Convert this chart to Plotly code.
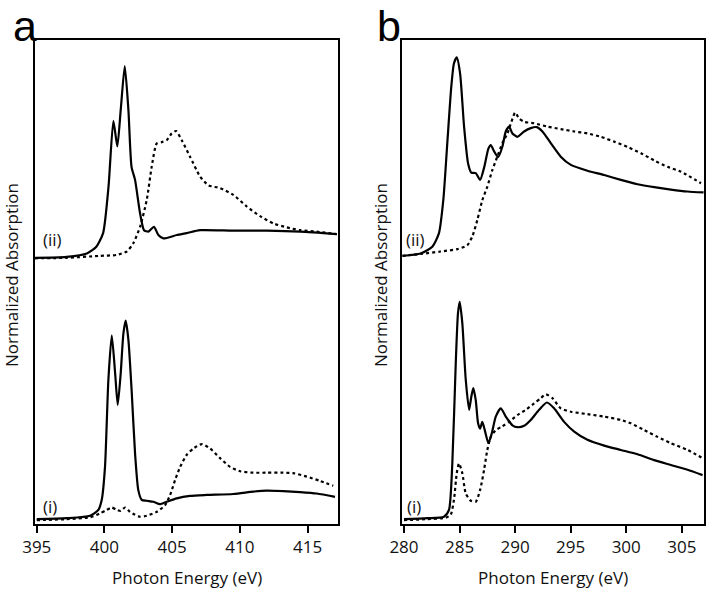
import plotly.graph_objects as go

# ---------------- Panel a: N K-edge ----------------
a_ii_solid_x = [394.87, 397.2, 398.7, 399.4, 399.9, 400.3, 400.66, 400.95, 401.2, 401.5, 401.77, 402.0, 402.26,
                402.63, 402.92, 403.24, 403.66, 403.98, 404.35, 405.34, 406.08, 407.06, 409.5, 412.0, 414.45, 417.16]
a_ii_solid_y = [55.0, 55.2, 55.9, 57.3, 60.1, 69.7, 83.3, 78.0, 85.5, 94.6, 85.5, 73.8, 71.1,
                64.2, 60.7, 60.4, 61.4, 59.7, 59.0, 59.7, 60.1, 60.7, 60.6, 60.6, 60.4, 59.9]

a_ii_dot_x = [394.87, 397.2, 399.67, 400.9, 401.65, 402.13, 402.63, 403.12, 403.49, 403.86, 404.23, 404.6, 404.97,
              405.29, 405.71, 406.32, 407.06, 407.67, 408.54, 409.52, 410.51, 411.5, 412.48, 413.46, 414.45, 415.68, 417.16]
a_ii_dot_y = [54.9, 55.0, 55.4, 55.6, 56.3, 58.0, 61.4, 66.9, 73.8, 78.6, 78.9, 79.3, 80.7,
              81.2, 79.3, 75.9, 71.8, 70.0, 69.4, 68.0, 65.6, 63.6, 62.1, 61.3, 60.7, 60.4, 59.9]

a_i_solid_x = [395.0, 397.2, 398.94, 399.55, 399.8, 400.04, 400.29, 400.54, 400.79, 400.98, 401.2, 401.4, 401.57,
               401.77, 402.02, 402.26, 402.5, 402.75, 403.12, 403.61, 404.1, 404.6, 405.34, 406.32, 407.55, 409.52,
               410.99, 411.98, 413.2, 414.45, 415.68, 417.03]
a_i_solid_y = [1.0, 1.2, 1.7, 2.9, 5.0, 11.8, 29.8, 39.0, 31.1, 24.6, 31.1, 39.4, 42.0,
               38.0, 27.0, 14.6, 7.0, 5.0, 4.8, 4.6, 4.1, 4.6, 5.3, 5.8, 6.0, 6.2,
               6.7, 6.9, 6.8, 6.6, 6.3, 5.6]

a_i_dot_x = [395.0, 397.2, 398.94, 399.67, 400.17, 400.54, 400.91, 401.2, 401.52, 401.89, 402.26, 402.63, 403.12,
             403.86, 404.48, 404.85, 405.22, 405.59, 406.08, 406.57, 407.19, 407.8, 408.54, 409.28, 410.02, 411.0,
             411.99, 413.2, 413.95, 414.94, 415.92, 416.9]
a_i_dot_y = [0.8, 1.0, 1.4, 2.2, 2.9, 3.4, 2.9, 2.7, 3.4, 2.5, 1.9, 1.5, 1.7,
             2.5, 3.9, 6.0, 9.1, 11.8, 14.3, 15.6, 16.5, 15.6, 13.6, 11.8, 10.9, 10.6,
             10.6, 10.6, 10.5, 9.8, 8.9, 7.9]

# ---------------- Panel b: C K-edge ----------------
b_ii_solid_x = [279.85, 281.5, 282.55, 283.15, 283.54, 283.9, 284.26, 284.5, 284.75, 285.05, 285.41, 285.77, 286.06,
                286.46, 286.85, 287.23, 287.59, 287.81, 288.11, 288.47, 288.86, 289.16, 289.46, 289.76, 290.21, 290.81,
                291.41, 291.96, 292.46, 293.21, 294.11, 295.02, 296.51, 298.02, 299.52, 301.02, 302.52, 304.02,
                305.52, 306.96]
b_ii_solid_y = [55.4, 55.9, 57.3, 60.1, 66.9, 78.7, 90.4, 95.2, 96.4, 93.1, 82.1, 74.5, 72.6,
                72.5, 71.1, 73.8, 77.5, 78.3, 77.0, 75.8, 78.0, 81.1, 82.1, 80.7, 80.0, 81.1,
                81.8, 82.0, 81.1, 78.7, 75.9, 74.2, 73.0, 72.1, 71.1, 70.2, 69.6, 69.1,
                68.7, 68.5]

b_ii_dot_x = [279.85, 281.5, 283.3, 284.8, 285.7, 286.15, 286.6, 287.05, 287.5, 287.95, 288.4, 288.86, 289.31,
              289.67, 290.0, 290.36, 290.81, 291.71, 292.91, 294.11, 295.32, 296.51, 297.72, 298.92, 300.12, 301.33,
              302.52, 303.72, 304.93, 306.73]
b_ii_dot_y = [55.4, 55.8, 56.3, 56.8, 57.6, 59.4, 62.8, 66.9, 69.7, 73.1, 75.9, 78.7, 80.7,
              83.1, 85.0, 83.8, 83.1, 82.8, 82.1, 81.6, 81.1, 80.7, 80.0, 79.0, 77.9, 76.6,
              75.1, 73.8, 72.8, 70.4]

b_i_solid_x = [280.0, 282.1, 283.6, 284.05, 284.35, 284.66, 284.86, 285.02, 285.25, 285.56, 285.86, 286.06, 286.24,
               286.46, 286.67, 286.85, 287.05, 287.27, 287.6, 287.9, 288.26, 288.71, 289.16, 289.76, 290.21, 290.81,
               291.41, 292.16, 292.86, 293.51, 294.41, 295.32, 296.51, 298.02, 299.52, 301.02, 302.52, 304.02,
               305.52, 306.87]
b_i_solid_y = [1.0, 1.2, 1.5, 2.9, 12.5, 33.2, 43.5, 45.9, 41.5, 29.8, 23.6, 26.3, 28.1,
               25.6, 20.8, 19.7, 21.1, 19.4, 16.7, 18.7, 22.2, 23.9, 22.2, 20.4, 20.0, 20.3,
               21.5, 23.6, 25.1, 23.9, 21.1, 19.1, 17.4, 16.2, 15.3, 14.4, 13.2, 12.2,
               11.2, 10.1]

b_i_dot_x = [280.0, 282.1, 283.76, 284.2, 284.5, 284.75, 284.95, 285.25, 285.56, 286.01, 286.46, 286.85, 287.21,
             287.5, 287.81, 288.26, 288.86, 289.46, 290.21, 290.96, 291.71, 292.31, 292.77, 293.36, 294.11, 295.02,
             296.51, 298.02, 299.52, 300.42, 301.62, 302.82, 304.02, 305.52, 306.87]
b_i_dot_y = [0.8, 1.0, 1.3, 1.9, 5.0, 10.5, 12.5, 10.5, 6.3, 4.8, 4.6, 7.0, 11.2,
             15.3, 18.0, 19.4, 20.2, 21.1, 22.5, 23.6, 24.9, 26.0, 26.8, 26.0, 23.9, 23.2,
             22.7, 22.2, 21.5, 20.8, 19.4, 18.0, 16.7, 15.3, 13.6]

a_ticks = [395, 400, 405, 410, 415]
b_ticks = [280, 285, 290, 295, 300, 305]
x_title = "Photon Energy (eV)"
y_title = "Normalized Absorption"
panel_labels = ["a", "b"]
curve_labels = ["(i)", "(ii)"]

FONT = "Open Sans"
INK = "#111111"

fig = go.Figure()

def add_line(x, y, dotted, xa, ya):
    fig.add_trace(go.Scatter(
        x=x, y=y, mode="lines", xaxis=xa, yaxis=ya,
        line=dict(color="black", width=2.2, shape="spline", smoothing=0.6,
                  dash="3px,3px" if dotted else "solid"),
        showlegend=False, hoverinfo="skip"))

add_line(a_ii_dot_x, a_ii_dot_y, True, "x", "y")
add_line(a_ii_solid_x, a_ii_solid_y, False, "x", "y")
add_line(a_i_dot_x, a_i_dot_y, True, "x", "y")
add_line(a_i_solid_x, a_i_solid_y, False, "x", "y")
add_line(b_ii_dot_x, b_ii_dot_y, True, "x2", "y2")
add_line(b_ii_solid_x, b_ii_solid_y, False, "x2", "y2")
add_line(b_i_dot_x, b_i_dot_y, True, "x2", "y2")
add_line(b_i_solid_x, b_i_solid_y, False, "x2", "y2")

W, H = 708, 589
ydom = [1 - 524 / H, 1 - 40 / H]

xcommon = dict(showline=True, linecolor="black", linewidth=2, mirror=True,
               ticks="outside", ticklen=7, tickwidth=2, tickcolor="black",
               showgrid=False, zeroline=False, automargin=False,
               tickfont=dict(family=FONT, size=17, color=INK))
ycommon = dict(showline=True, linecolor="black", linewidth=2, mirror=True,
               showticklabels=False, ticks="", showgrid=False, zeroline=False,
               automargin=False, range=[0, 100], domain=ydom)

fig.update_layout(
    width=W, height=H,
    margin=dict(l=0, r=0, t=0, b=0, pad=0, autoexpand=False),
    paper_bgcolor="white", plot_bgcolor="white",
    xaxis=dict(xcommon, domain=[35 / W, 338 / W], range=[394.87, 417.25],
               tickvals=a_ticks, ticktext=[str(t) for t in a_ticks], anchor="y"),
    yaxis=dict(ycommon, anchor="x"),
    xaxis2=dict(xcommon, domain=[402.3 / W, 704 / W], range=[279.85, 307.0],
                tickvals=b_ticks, ticktext=[str(t) for t in b_ticks], anchor="y2"),
    yaxis2=dict(ycommon, anchor="x2"),
)

ann = []
# x titles
for cx in [(35 + 338) / 2, (402.3 + 704) / 2]:
    ann.append(dict(text=x_title, x=cx / W, y=1 - 577 / H, xref="paper", yref="paper",
                    xanchor="center", yanchor="middle", showarrow=False,
                    font=dict(family=FONT, size=17, color=INK)))
# y titles
for cx in [11, 380]:
    ann.append(dict(text=y_title, x=cx / W, y=1 - 275 / H, xref="paper", yref="paper",
                    xanchor="center", yanchor="middle", showarrow=False, textangle=-90,
                    font=dict(family=FONT, size=17, color=INK)))
# panel letters
for lbl, cx in zip(panel_labels, [25, 389]):
    ann.append(dict(text=lbl, x=cx / W, y=1, xref="paper", yref="paper",
                    xanchor="center", yanchor="top", showarrow=False,
                    font=dict(family="Liberation Sans", size=43, color="black")))
# curve labels
for xa, ya, xs in [("x", "y", [395.98, 396.13]), ("x2", "y2", [280.9, 281.08])]:
    for lbl, xv, yv in zip(curve_labels, xs, [3.7, 58.7]):
        ann.append(dict(text=lbl, x=xv, y=yv, xref=xa, yref=ya,
                        xanchor="center", yanchor="middle", showarrow=False,
                        font=dict(family=FONT, size=17, color=INK)))
fig.update_layout(annotations=ann)

fig.write_html("out.html")
